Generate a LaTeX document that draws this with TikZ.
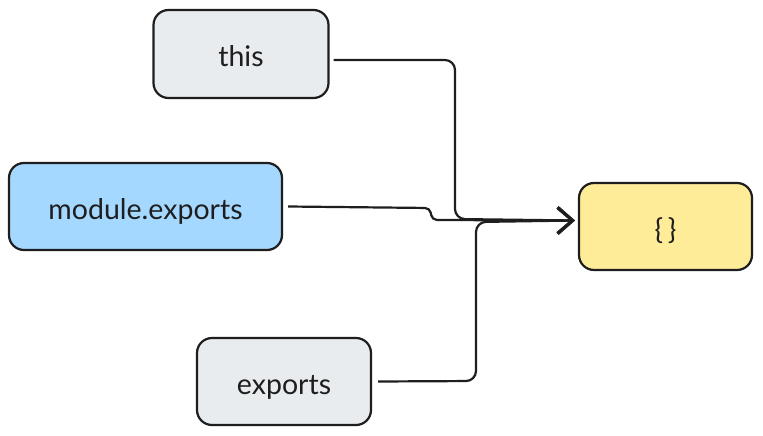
\documentclass[tikz,border=0pt]{standalone}
\usepackage{fontspec}
\setmainfont{Lato}
\usetikzlibrary{arrows.meta}
\definecolor{ink}{HTML}{1E1E1E}
\definecolor{grayfill}{HTML}{E9ECEF}
\definecolor{bluefill}{HTML}{A5D8FF}
\definecolor{yellowfill}{HTML}{FFEC99}
\tikzset{
  box/.style={draw=ink, line width=2.2pt, rounded corners=15pt, text=ink,
    font=\fontsize{28.5}{32}\selectfont, inner sep=0pt,
    text height=25pt, text depth=0pt},
  link/.style={draw=ink, line width=2.2pt, rounded corners=10pt,
    -{Straight Barb[length=15pt,width=26pt,line width=3pt]}},
}
\begin{document}
\begin{tikzpicture}[x=1pt,y=-1pt]
\useasboundingbox[fill=white] (0,0) rectangle (763,436);
% boxes
\node[box, fill=grayfill, minimum width=175pt, minimum height=88pt] (this) at (241,54) {this};
\node[box, fill=bluefill, minimum width=273pt, minimum height=87pt] (modexp) at (145.5,206.5) {module.exports};
\node[box, fill=grayfill, minimum width=174pt, minimum height=87pt] (exports) at (284,381.5) {exports};
\node[box, fill=yellowfill, minimum width=173pt, minimum height=87pt] (obj) at (665.5,226.5) {\{\,\}};
% connectors merging into the object
\coordinate (tip) at ([xshift=-3pt,yshift=6pt]obj.west);
\draw[link] ([xshift=4pt,yshift=-6pt]this.east) -- (455,60) -- (455,219) -- (tip);
\draw[link, rounded corners=5pt] ([xshift=5pt]modexp.east) -- (430,208) -- (432,220) -- (tip);
\draw[link] ([xshift=6pt]exports.east) -- (476,381) -- (476,222) -- (tip);
\end{tikzpicture}
\end{document}
